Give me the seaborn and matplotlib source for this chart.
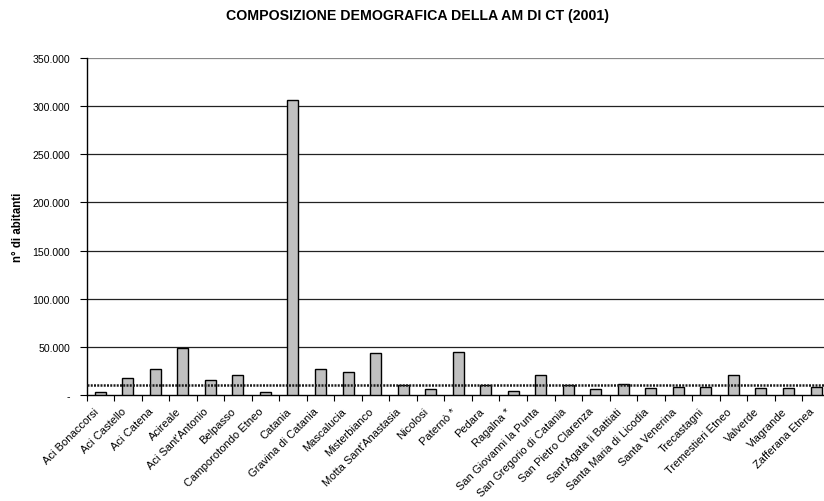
import matplotlib
matplotlib.use("Agg")
import matplotlib.pyplot as plt
import matplotlib.ticker as mticker
import matplotlib.transforms as mtransforms
import seaborn as sns
import pandas as pd

comuni = [
    "Aci Bonaccorsi", "Aci Castello", "Aci Catena", "Acireale", "Aci Sant'Antonio",
    "Belpasso", "Camporotondo Etneo", "Catania", "Gravina di Catania", "Mascalucia",
    "Misterbianco", "Motta Sant'Anastasia", "Nicolosi", "Paternò *", "Pedara",
    "Ragalna *", "San Giovanni la Punta", "San Gregorio di Catania", "San Pietro Clarenza",
    "Sant'Agata li Battiati", "Santa Maria di Licodia", "Santa Venerina", "Trecastagni",
    "Tremestieri Etneo", "Valverde", "Viagrande", "Zafferana Etnea",
]
abitanti = [
    2500, 17700, 26700, 48300, 15300,
    20200, 2800, 306500, 27000, 23900,
    43400, 10100, 5900, 44700, 10100,
    3500, 20800, 10400, 5600,
    11100, 7000, 7700, 8000,
    20200, 7000, 6700, 8000,
]
soglia = 10400
y_ticks = [0, 50000, 100000, 150000, 200000, 250000, 300000, 350000]

df = pd.DataFrame({"comune": comuni, "abitanti": abitanti})

sns.set_style("white")
plt.rcParams["font.family"] = ["Liberation Sans", "DejaVu Sans"]
plt.rcParams["text.color"] = "black"
plt.rcParams["xtick.color"] = "black"
plt.rcParams["ytick.color"] = "black"
plt.rcParams["axes.labelcolor"] = "black"

W, H = 824, 502
fig = plt.figure(figsize=(W / 100, H / 100), dpi=100)
left, right, bottom, top = 86.5, 829.8, 395.7, 59.3
ax = fig.add_axes([left / W, 1 - bottom / H, (right - left) / W, (bottom - top) / H])

sns.barplot(data=df, x="comune", y="abitanti", color="#c0c0c0", edgecolor="black",
            linewidth=1.0, width=0.4, saturation=1, ax=ax, zorder=3)

ax.set_xlim(-0.5, len(comuni) - 0.5)
ax.set_ylim(0, 350000)

# horizontal gridlines
for v in y_ticks[1:]:
    ax.axhline(v, color="#222222" if v < 350000 else "#888888", lw=0.9, zorder=1)

# reference level
ax.axhline(soglia, color="#1a1a1a", lw=1.8, linestyle=(0, (0.8, 0.5)), zorder=4)

ax.set_yticks(y_ticks)
ax.yaxis.set_major_formatter(mticker.FuncFormatter(
    lambda v, _: "-" if v == 0 else f"{v:,.0f}".replace(",", ".")))
ax.tick_params(axis="y", which="major", direction="out", length=5, width=0.8,
               pad=7, labelsize=7.6, left=True)

# category labels at centres, tick marks at category boundaries
ax.set_xticks(range(len(comuni)))
ax.set_xticklabels(comuni, rotation=45, ha="right", rotation_mode="anchor", fontsize=8.0)
ax.tick_params(axis="x", which="major", length=0, pad=8)
shift = mtransforms.ScaledTranslation(-7 / 100, 0, fig.dpi_scale_trans)
for lab in ax.get_xticklabels():
    lab.set_transform(lab.get_transform() + shift)
ax.set_xticks([i - 0.5 for i in range(len(comuni) + 1)], minor=True)
ax.tick_params(axis="x", which="minor", direction="out", length=4, width=0.8,
               bottom=True)

for s in ["top", "right"]:
    ax.spines[s].set_visible(False)
for s in ["left", "bottom"]:
    ax.spines[s].set_color("black")
    ax.spines[s].set_linewidth(1.0)

ax.set_xlabel("")
ax.set_ylabel("n° di abitanti", fontsize=8.3, fontweight="bold", labelpad=6)

fig.text(417 / W, 1 - 16 / H, "COMPOSIZIONE DEMOGRAFICA DELLA AM DI CT (2001)",
         ha="center", va="center", fontsize=10.2, fontweight="bold")

fig.savefig("out.png", dpi=100, facecolor="white")
